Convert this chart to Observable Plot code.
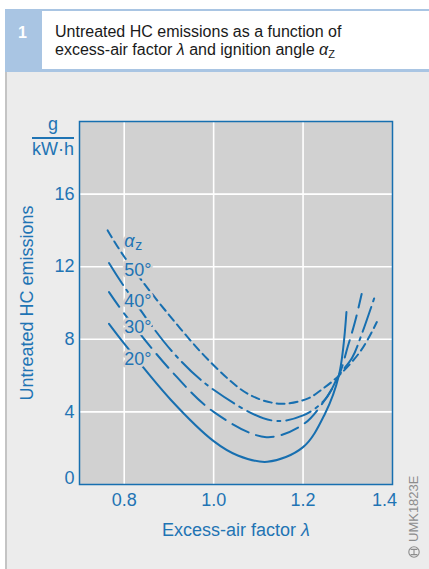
<!DOCTYPE html>
<html>
<head>
<meta charset="utf-8">
<script src="https://cdn.jsdelivr.net/npm/d3@7"></script>
<script src="https://cdn.jsdelivr.net/npm/@observablehq/plot@0.6"></script>
<style>
  html, body { margin: 0; padding: 0; }
  body { width: 429px; height: 569px; overflow: hidden; background: #fff; position: relative;
         font-family: "Liberation Sans", Arial, sans-serif; }
  #numbox { position: absolute; left: 5px; top: 9px; width: 37px; height: 63px; background: #a9c5e3;
            color: #fff; font-size: 16px; font-weight: bold; }
  #numbox span { position: absolute; left: 13px; top: 16px; line-height: 16px; }
  #topline { position: absolute; left: 42px; top: 9px; width: 387px; height: 2px; background: #a9c5e3; }
  #botline { position: absolute; left: 42px; top: 69px; width: 387px; height: 3px; background: #a9c5e3; }
  #title { position: absolute; left: 55px; top: 23px; font-size: 16px; line-height: 18.3px; color: #1a1a1a; white-space: nowrap; }
  #title sub { font-size: 11px; vertical-align: -3px; line-height: 0; }
  #panel { position: absolute; left: 5px; top: 72px; width: 422px; height: 497px; background: #ececec;
           border-left: 2px solid #c4c4c4; }
  #chart { position: absolute; left: 0; top: 72px; }
  .unit { position: absolute; color: #1f74b4; font-size: 18px; line-height: 18px; text-align: center; width: 42px; left: 32px; }
  #bar { position: absolute; left: 32px; top: 137px; width: 42px; height: 1.5px; background: #1f74b4; }
  #code { position: absolute; left: 371px; top: 508px; width: 86px; height: 14px; transform: rotate(-90deg);
          transform-origin: 50% 50%; color: #8c8c8c; font-size: 13px; line-height: 14px; white-space: nowrap; }
  #code svg { vertical-align: -2px; margin-right: 4px; }
</style>
</head>
<body>
<div id="panel"></div>
<div id="topline"></div>
<div id="botline"></div>
<div id="numbox"><span>1</span></div>
<div id="title">Untreated HC emissions as a function of<br>excess-air factor <i>λ</i> and ignition angle <i>α</i><sub>Z</sub></div>
<div class="unit" style="top:115px">g</div>
<div id="bar"></div>
<div class="unit" style="top:140px">kW·h</div>
<div id="chart"></div>
<div id="code"><svg width="12" height="12" viewBox="0 0 12 12"><circle cx="6" cy="6" r="5.2" fill="none" stroke="#8c8c8c" stroke-width="1.1"/><path d="M3.4 2.6 V9.4 M8.6 2.6 V9.4 M3.4 6 H8.6" stroke="#8c8c8c" stroke-width="1.1" fill="none"/></svg>UMK1823E</div>

<script>
// ---- data ----
const angles = ["20°", "30°", "40°", "50°"];

const lambda20 = [0.766, 0.80, 0.904, 1.00, 1.054, 1.12, 1.20, 1.249, 1.28, 1.297];
const hc20     = [8.85, 7.76, 4.67, 2.39, 1.60, 1.25, 2.06, 3.90, 6.00, 9.50];

const lambda30 = [0.766, 0.80, 0.904, 1.00, 1.118, 1.20, 1.24, 1.28, 1.30, 1.316, 1.331];
const hc30     = [10.6, 9.42, 6.29, 4.00, 2.61, 3.31, 4.36, 6.00, 7.60, 8.95, 10.5];

const lambda40 = [0.766, 0.80, 0.91, 1.00, 1.13, 1.20, 1.25, 1.28, 1.31, 1.33, 1.36];
const hc40     = [12.2, 10.9, 7.25, 5.22, 3.53, 3.81, 4.70, 6.00, 7.00, 8.20, 10.33];

const lambda50 = [0.763, 0.80, 0.90, 1.00, 1.08, 1.15, 1.21, 1.24, 1.28, 1.33, 1.365];
const hc50     = [14.0, 12.55, 9.35, 6.57, 4.95, 4.45, 4.73, 5.20, 6.00, 7.40, 8.95];

const labelText   = ["50°", "40°", "30°", "20°"];
const labelLambda = [0.80, 0.80, 0.80, 0.80];
const labelHC     = [11.78, 10.12, 8.69, 6.90];

const symbolLambda = 0.80;
const symbolHC = 13.4;

const xTicks = [0.8, 1.0, 1.2, 1.4];
const yTicks = [0, 4, 8, 12, 16];
const xGrid = [0.8, 1.0, 1.2];
const yGrid = [4, 8, 12, 16];

// ---- styles ----
const blue = "#176fb0";
const textBlue = "#1f74b4";
const plotBg = "#d1d1d1";
const dash = {"20°": null, "30°": "18,8", "40°": "26,6,3,6", "50°": "8,5"};

const series = {"20°": [lambda20, hc20], "30°": [lambda30, hc30], "40°": [lambda40, hc40], "50°": [lambda50, hc50]};
const rows = angles.flatMap(a => series[a][0].map((x, i) => ({angle: a, lambda: x, hc: series[a][1][i]})));
const labels = labelText.map((t, i) => ({text: t, lambda: labelLambda[i], hc: labelHC[i]}));

const lineMarks = angles.map(a => Plot.line(rows.filter(r => r.angle === a), {
  x: "lambda", y: "hc", stroke: blue, strokeWidth: 2,
  strokeDasharray: dash[a] || undefined, curve: "catmull-rom"
}));

const lastX = xTicks[xTicks.length - 1];

const svg = Plot.plot({
  width: 429, height: 480,
  marginLeft: 79, marginRight: 37, marginTop: 49, marginBottom: 68,
  style: {background: "transparent", fontFamily: "Liberation Sans, Arial, sans-serif", fontSize: "18px", color: textBlue, overflow: "visible"},
  x: {domain: [0.7, 1.4]},
  y: {domain: [0, 20]},
  marks: [
    Plot.frame({fill: plotBg, stroke: "none"}),
    Plot.gridX(xGrid, {stroke: "white", strokeOpacity: 1, strokeWidth: 1.6}),
    Plot.gridY(yGrid, {stroke: "white", strokeOpacity: 1, strokeWidth: 1.6}),
    ...lineMarks,
    Plot.text(labels, {x: "lambda", y: "hc", text: "text", textAnchor: "start", fill: textBlue,
      stroke: plotBg, strokeWidth: 5, fontSize: 18}),
    Plot.text([{lambda: symbolLambda, hc: symbolHC}], {x: "lambda", y: "hc", text: () => "α", textAnchor: "start",
      fill: textBlue, stroke: plotBg, strokeWidth: 5, fontSize: 18, fontStyle: "italic"}),
    Plot.text([{lambda: symbolLambda, hc: symbolHC}], {x: "lambda", y: "hc", text: () => "z", textAnchor: "start",
      dx: 11, dy: 4, fill: textBlue, stroke: plotBg, strokeWidth: 4, fontSize: 14}),
    Plot.frame({stroke: blue, strokeWidth: 1.5}),
    Plot.axisX(xTicks.filter(d => d !== lastX), {tickSize: 0, tickPadding: 9, tickFormat: d3.format(".1f"),
      label: "Excess-air factor λ", labelAnchor: "center", labelArrow: "none", labelOffset: 51}),
    Plot.axisX([lastX], {tickSize: 0, tickPadding: 9, dx: -8, tickFormat: d3.format(".1f"), label: null}),
    Plot.axisY(yTicks.filter(d => d > 0), {tickSize: 0, tickPadding: 5,
      label: "Untreated HC emissions", labelAnchor: "center", labelArrow: "none", labelOffset: 59}),
    Plot.axisY(yTicks.filter(d => d === 0), {tickSize: 0, tickPadding: 5, dy: -6, label: null})
  ]
});

d3.select(svg).selectAll("text").each(function () {
  if (this.textContent === "Excess-air factor λ") {
    const t = d3.select(this);
    t.text(null);
    t.append("tspan").text("Excess-air factor ");
    t.append("tspan").attr("font-style", "italic").text("λ");
  }
});

document.getElementById("chart").appendChild(svg);
</script>
</body>
</html>
